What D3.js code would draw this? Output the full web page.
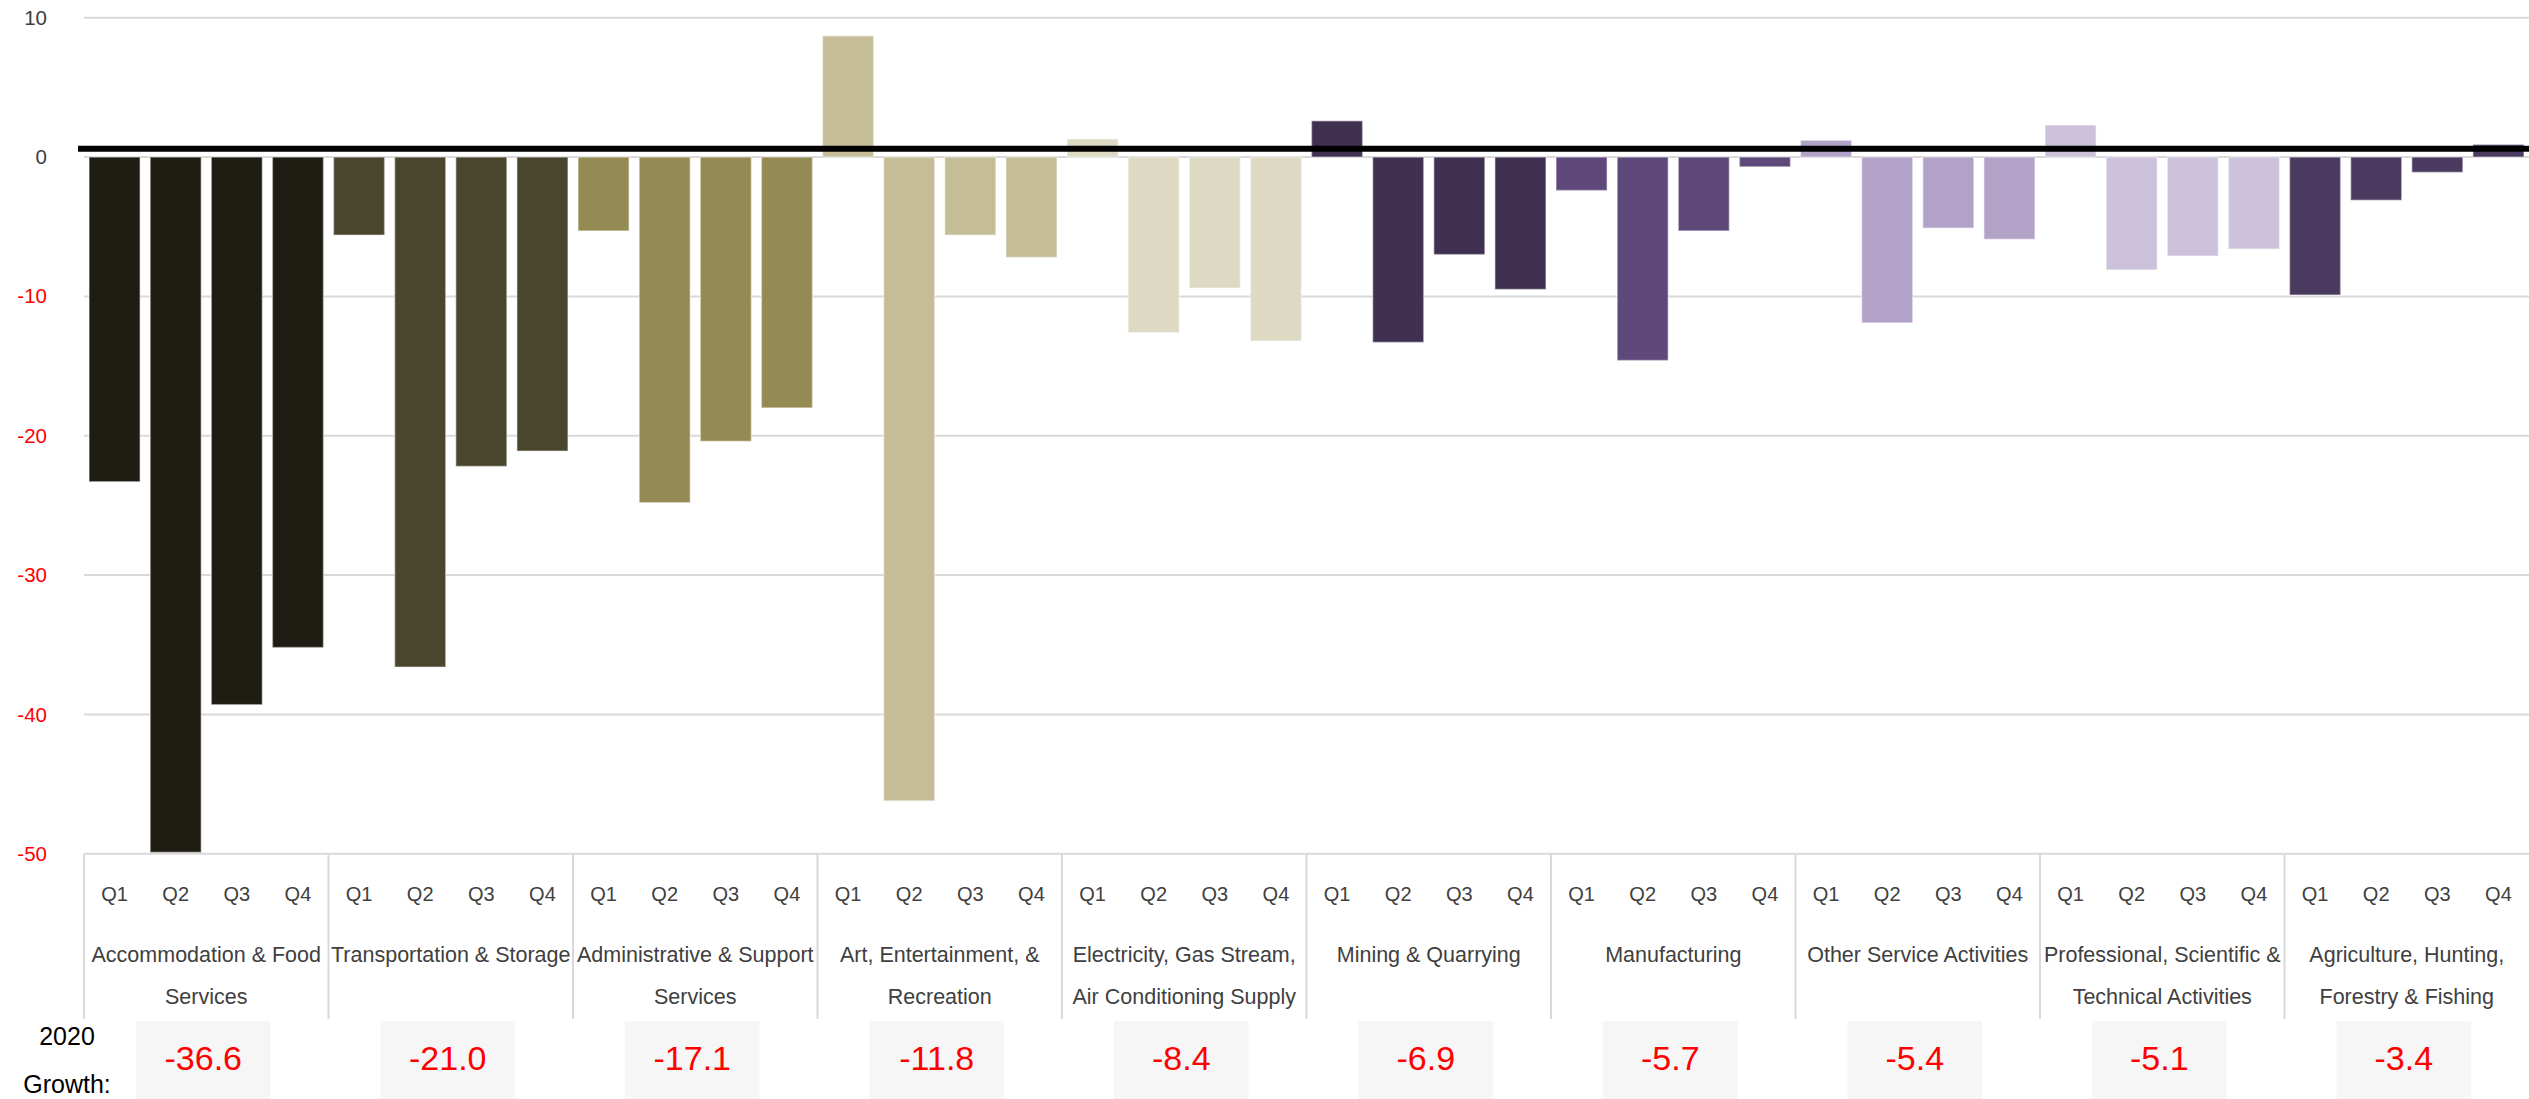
<!DOCTYPE html>
<html>
<head>
<meta charset="utf-8">
<script src="https://cdn.jsdelivr.net/npm/d3@7"></script>
<style>
  html, body { margin: 0; padding: 0; background: #ffffff; }
  svg { display: block; }
  text { font-family: "Liberation Sans", Arial, sans-serif; }
</style>
</head>
<body>
<svg id="chart" width="2529" height="1099"></svg>
<script>
// Sectors, ordered by 2020 growth
const sectors = [
  "Accommodation & Food Services",
  "Transportation & Storage",
  "Administrative & Support Services",
  "Art, Entertainment, & Recreation",
  "Electricity, Gas Stream, Air Conditioning Supply",
  "Mining & Quarrying",
  "Manufacturing",
  "Other Service Activities",
  "Professional, Scientific & Technical Activities",
  "Agriculture, Hunting, Forestry & Fishing"
];
// Sector labels as they wrap under the axis
const sectorLabelLines = [
  ["Accommodation & Food", "Services"],
  ["Transportation & Storage"],
  ["Administrative & Support", "Services"],
  ["Art, Entertainment, &", "Recreation"],
  ["Electricity, Gas Stream,", "Air Conditioning Supply"],
  ["Mining & Quarrying"],
  ["Manufacturing"],
  ["Other Service Activities"],
  ["Professional, Scientific &", "Technical Activities"],
  ["Agriculture, Hunting,", "Forestry & Fishing"]
];
const quarters = ["Q1", "Q2", "Q3", "Q4"];

// Quarterly growth (%) per sector
const accommodation  = [-23.3, -49.9, -39.3, -35.2];
const transportation = [-5.6, -36.6, -22.2, -21.1];
const administrative = [-5.3, -24.8, -20.4, -18.0];
const artEntertain   = [8.7, -46.2, -5.6, -7.2];
const electricity    = [1.3, -12.6, -9.4, -13.2];
const mining         = [2.6, -13.3, -7.0, -9.5];
const manufacturing  = [-2.4, -14.6, -5.3, -0.7];
const otherServices  = [1.2, -11.9, -5.1, -5.9];
const professional   = [2.3, -8.1, -7.1, -6.6];
const agriculture    = [-9.9, -3.1, -1.1, 0.9];
const quarterlyValues = [accommodation, transportation, administrative, artEntertain,
  electricity, mining, manufacturing, otherServices, professional, agriculture];

// Full-year 2020 growth (%)
const growth2020 = [-36.6, -21.0, -17.1, -11.8, -8.4, -6.9, -5.7, -5.4, -5.1, -3.4];

// Sector colours
const sectorColors = ["#1f1d13", "#4a452d", "#948a54", "#c4bd97", "#ddd9c3",
  "#403152", "#5f497a", "#b2a2c7", "#ccc1da", "#4b3a5f"];

const yTicks = [10, 0, -10, -20, -30, -40, -50];
const referenceLine = 0.6;

// ---- layout ----
const W = 2529, H = 1099;
const plotLeft = 84, plotRight = 2529, plotTop = 17.7, plotBottom = 853.8;

// plain hyphen-minus for negatives
const fmtInt = d => String(d);
const fmtOne = d => d.toFixed(1);

const svg = d3.select("#chart");

const rows = [];
sectors.forEach((s, i) => {
  quarters.forEach((q, j) => {
    rows.push({ key: i + "-" + q, sector: i, quarter: q, value: quarterlyValues[i][j] });
  });
});

const x = d3.scaleBand()
  .domain(rows.map(d => d.key))
  .range([plotLeft, plotRight])
  .paddingInner(0.165)
  .paddingOuter(0.0825);

const xSector = d3.scaleBand()
  .domain(d3.range(sectors.length))
  .range([plotLeft, plotRight]);

const y = d3.scaleLinear().domain([-50, 10]).range([plotBottom, plotTop]);

// gridlines
svg.append("g")
  .selectAll("line")
  .data(yTicks)
  .join("line")
  .attr("x1", plotLeft).attr("x2", plotRight)
  .attr("y1", d => y(d)).attr("y2", d => y(d))
  .attr("stroke", "#d9d9d9")
  .attr("stroke-width", 2);

// y-axis labels
const yAxis = d3.axisLeft(y).tickValues(yTicks).tickSize(0).tickPadding(0).tickFormat(fmtInt);
const yg = svg.append("g").attr("transform", "translate(47,0)").call(yAxis);
yg.select(".domain").remove();
yg.selectAll("text")
  .attr("font-size", 20.5)
  .attr("font-family", "'Liberation Sans', Arial, sans-serif")
  .attr("fill", d => d < 0 ? "#ff0000" : "#404040");

// bars
svg.append("g")
  .selectAll("rect")
  .data(rows)
  .join("rect")
  .attr("x", d => x(d.key))
  .attr("width", x.bandwidth())
  .attr("y", d => y(Math.max(0, d.value)))
  .attr("height", d => Math.abs(y(d.value) - y(0)))
  .attr("fill", d => sectorColors[d.sector])
  .attr("stroke", "#ffffff")
  .attr("stroke-opacity", 0.4)
  .attr("stroke-width", 1.5);

// heavy reference line near zero
svg.append("line")
  .attr("x1", 78).attr("x2", plotRight)
  .attr("y1", y(referenceLine)).attr("y2", y(referenceLine))
  .attr("stroke", "#000000")
  .attr("stroke-width", 6);

// category axis: separators
const sepBottom = 1019;
svg.append("g")
  .selectAll("line")
  .data(d3.range(sectors.length))
  .join("line")
  .attr("x1", d => xSector(d)).attr("x2", d => xSector(d))
  .attr("y1", plotBottom).attr("y2", sepBottom)
  .attr("stroke", "#d9d9d9")
  .attr("stroke-width", 2);

// quarter labels
svg.append("g")
  .selectAll("text")
  .data(rows)
  .join("text")
  .attr("x", d => x(d.key) + x.bandwidth() / 2)
  .attr("y", 900.5)
  .attr("text-anchor", "middle")
  .attr("font-size", 20)
  .attr("fill", "#404040")
  .text(d => d.quarter);

// sector labels
const lab = svg.append("g")
  .selectAll("text")
  .data(sectorLabelLines)
  .join("text")
  .attr("text-anchor", "middle")
  .attr("font-size", 21.5)
  .attr("fill", "#404040");
lab.selectAll("tspan")
  .data((lines, i) => lines.map(l => ({ l, i })))
  .join("tspan")
  .attr("x", d => xSector(d.i) + xSector.bandwidth() / 2)
  .attr("y", (d, k) => 962 + k * 41.7)
  .text(d => d.l);

// 2020 growth row
svg.append("text")
  .attr("x", 67).attr("y", 1045)
  .attr("text-anchor", "middle")
  .attr("font-size", 25)
  .attr("fill", "#000000")
  .text("2020");
svg.append("text")
  .attr("x", 67).attr("y", 1093)
  .attr("text-anchor", "middle")
  .attr("font-size", 25)
  .attr("fill", "#000000")
  .text("Growth:");

const boxW = 134.5;
const boxes = svg.append("g")
  .selectAll("g")
  .data(growth2020)
  .join("g")
  .attr("transform", (d, i) => `translate(${xSector(i) + xSector.bandwidth() / 2 - 3},0)`);
boxes.append("rect")
  .attr("x", -boxW / 2).attr("width", boxW)
  .attr("y", 1021).attr("height", H - 1021)
  .attr("fill", "#f6f6f6");
boxes.append("text")
  .attr("x", 0).attr("y", 1070)
  .attr("text-anchor", "middle")
  .attr("font-size", 34)
  .attr("fill", "#ff0000")
  .text(d => fmtOne(d));
</script>
</body>
</html>
